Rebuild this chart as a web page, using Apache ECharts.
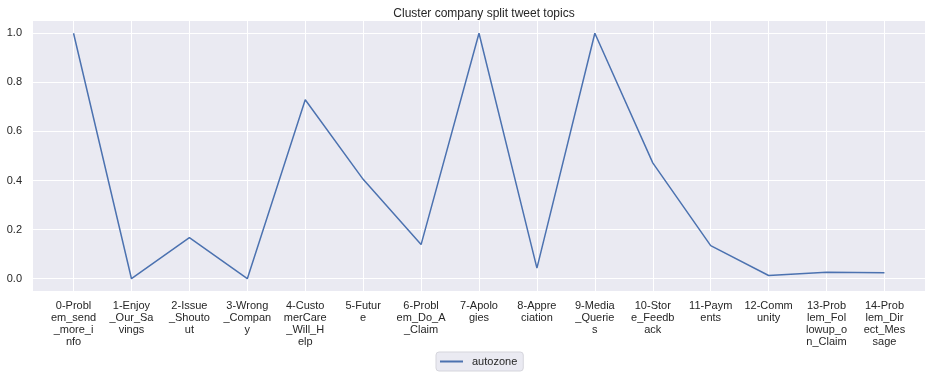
<!DOCTYPE html>
<html>
<head>
<meta charset="utf-8">
<script src="https://cdn.jsdelivr.net/npm/echarts@6/dist/echarts.min.js"></script>
<style>html,body{margin:0;padding:0;background:#fff;}#c{width:938px;height:378px;}</style>
</head>
<body>
<div id="c"></div>
<script>
const categories = [
  "0-Problem_send_more_info", "1-Enjoy_Our_Savings", "2-Issue_Shoutout", "3-Wrong_Company",
  "4-CustomerCare_Will_Help", "5-Future", "6-Problem_Do_A_Claim", "7-Apologies",
  "8-Appreciation", "9-Media_Queries", "10-Store_Feedback", "11-Payments",
  "12-Community", "13-Problem_Followup_on_Claim", "14-Problem_Direct_Message"
];
const seriesName = "autozone";
const autozone = [1.0, 0.0, 0.167, 0.0, 0.729, 0.405, 0.139, 1.0, 0.043, 1.0, 0.472, 0.135, 0.013, 0.026, 0.024];
const yTicks = [0, 0.2, 0.4, 0.6, 0.8, 1.0];
const xTicks = categories.map((c, i) => i);

function wrap(s, n) {
  const out = [];
  for (let i = 0; i < s.length; i += n) out.push(s.slice(i, i + n));
  return out.join('\n');
}

const chart = echarts.init(document.getElementById('c'), null, {renderer: 'canvas'});
const font = 'Liberation Sans, Arial, sans-serif';
chart.setOption({
  animation: false,
  backgroundColor: '#ffffff',
  title: {
    text: 'Cluster company split tweet topics',
    left: 479, top: 3, textAlign: 'center',
    textStyle: {fontFamily: font, fontSize: 12, fontWeight: 'normal', color: '#262626'}
  },
  legend: {
    data: [{name: seriesName, icon: 'rect'}],
    left: 436, top: 352,
    itemWidth: 23, itemHeight: 2, itemGap: 8,
    padding: [4, 6, 4, 4],
    borderColor: '#d5d5dc', borderWidth: 1, borderRadius: 3,
    backgroundColor: '#EAEAF2',
    textStyle: {fontFamily: font, fontSize: 11, color: '#262626', padding: [0, 0, 0, 4]}
  },
  grid: {
    left: 33, right: 13, top: 21, bottom: 87,
    show: true, backgroundColor: '#EAEAF2', borderWidth: 0,
    containLabel: false
  },
  xAxis: {
    type: 'value', min: -0.7, max: 14.7,
    axisLine: {show: false},
    axisTick: {show: false, customValues: xTicks},
    axisLabel: {
      customValues: xTicks,
      margin: 9,
      fontFamily: font, fontSize: 11, color: '#262626', lineHeight: 12,
      align: 'center', verticalAlign: 'top',
      formatter: v => wrap(categories[Math.round(v)], 7)
    },
    splitLine: {show: true, lineStyle: {color: '#ffffff', width: 1}}
  },
  yAxis: {
    type: 'value', min: -0.05, max: 1.05,
    axisLine: {show: false},
    axisTick: {show: false, customValues: yTicks},
    axisLabel: {
      customValues: yTicks, margin: 11,
      fontFamily: font, fontSize: 11, color: '#262626',
      formatter: v => v.toFixed(1)
    },
    splitLine: {show: true, lineStyle: {color: '#ffffff', width: 1}}
  },
  series: [{
    name: seriesName, type: 'line',
    data: autozone.map((v, i) => [i, v]),
    symbol: 'none',
    lineStyle: {color: '#4C72B0', width: 1.5},
    itemStyle: {color: '#4C72B0'}
  }]
});
</script>
</body>
</html>
